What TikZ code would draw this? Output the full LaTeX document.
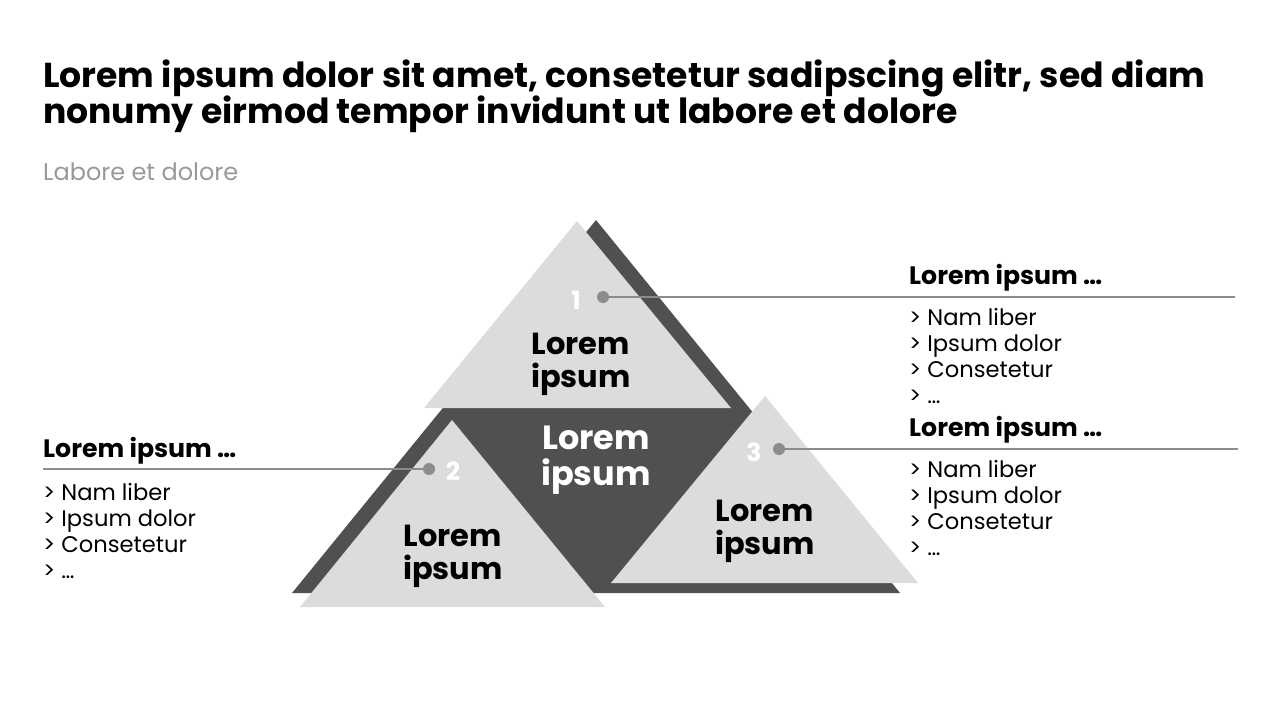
\documentclass[tikz,border=0pt]{standalone}
\usepackage{fontspec}
\setmainfont{Poppins}
\usetikzlibrary{positioning}
\definecolor{darkgrey}{HTML}{505050}
\definecolor{lightgrey}{HTML}{DCDCDC}
\definecolor{linegrey}{HTML}{8C8C8C}
\definecolor{subgrey}{HTML}{999999}

\begin{document}
\begin{tikzpicture}[x=1pt, y=-1pt, inner sep=0pt,
	title/.style={anchor=base west, font=\fontsize{34.6}{37}\selectfont\bfseries},
	subtitle/.style={anchor=base west, text=subgrey, font=\fontsize{24}{28}\selectfont},
	head/.style={anchor=base west, font=\fontsize{25.2}{28}\selectfont\bfseries},
	item/.style={anchor=base west, font=\fontsize{22.6}{26}\selectfont},
	label/.style={align=center, font=\fontsize{30.5}{33}\selectfont\bfseries},
	number/.style={text=white, font=\fontsize{25}{27}\selectfont\bfseries},
	dot/.style={circle, fill=linegrey, minimum size=12pt},
	link/.style={draw=linegrey, line width=1.6pt},
	]
	\useasboundingbox (0,0) rectangle (1280,720);
	
	% heading
	\node[title] (T1) at (43,87) {Lorem ipsum dolor sit amet, consetetur sadipscing elitr, sed diam};
	\node[title] (T2) at (43,123) {nonumy eirmod tempor invidunt ut labore et dolore};
	\node[subtitle] (S) at (43,180) {Labore et dolore};
	
	% pyramid
	\fill[darkgrey] (596,220) -- (900,593) -- (292,593) -- cycle;
	\fill[lightgrey] (577,221) -- (731,408) -- (424,408) -- cycle;
	\fill[lightgrey] (452,420) -- (605,607) -- (300,607) -- cycle;
	\fill[lightgrey] (765,396) -- (918,583) -- (611,583) -- cycle;
	
	\node[label] (A) at (581,364) {Lorem\\ipsum};
	\node[label] (B) at (453,556) {Lorem\\ipsum};
	\node[label] (C) at (765,531) {Lorem\\ipsum};
	\node[label, text=white, font=\fontsize{33.5}{36}\selectfont\bfseries] (M) at (596,460) {Lorem\\ipsum};
	
	\node[number] (N1) at (576,300) {1};
	\node[number] (N2) at (453,471) {2};
	\node[number] (N3) at (754,452) {3};
	\node[dot] (D1) at (603,297) {};
	\node[dot] (D2) at (429,469) {};
	\node[dot] (D3) at (779,449) {};
	
	% callouts
	\coordinate (E1) at (1235,297);
	\coordinate (E2) at (43,469);
	\coordinate (E3) at (1238,449);
	\draw[link] (D1) -- (E1);
	\draw[link] (D2) -- (E2);
	\draw[link] (D3) -- (E3);
	
	\node[head] (H1) at (909,284) {Lorem ipsum …};
	\node[head] (H2) at (909,436) {Lorem ipsum …};
	\node[head] (H3) at (43,457) {Lorem ipsum …};
	\foreach \t [count=\i] in {Nam liber, Ipsum dolor, Consetetur, …}{
		\node[item] (R\i) at (909,299+26*\i) {> \t};
		\node[item] (Q\i) at (909,451+26*\i) {> \t};
		\node[item] (L\i) at (43,474+26*\i) {> \t};
	}
\end{tikzpicture}
\end{document}
